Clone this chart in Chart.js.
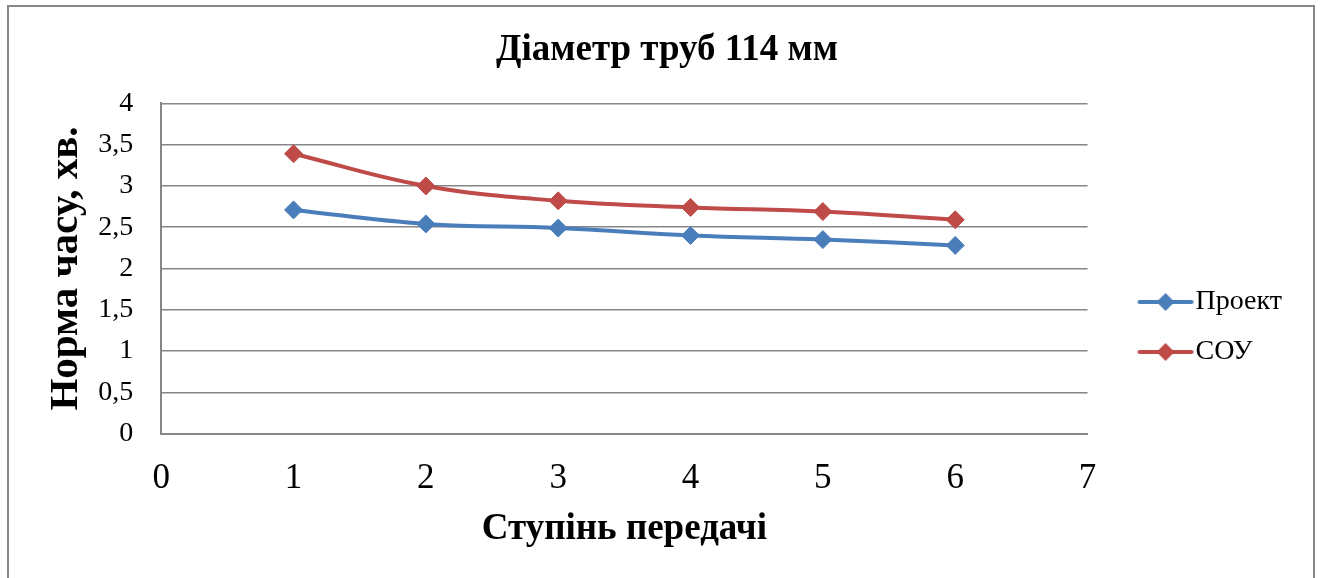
<!DOCTYPE html>
<html>
<head>
<meta charset="utf-8">
<script src="https://cdn.jsdelivr.net/npm/chart.js@4.4.1/dist/chart.umd.min.js"></script>
<style>
  html, body { margin: 0; padding: 0; background: #ffffff; }
  canvas { display: block; }
</style>
</head>
<body>
<canvas id="chart" width="1320" height="578"></canvas>
<script>
// Ступені передачі та норми часу (хв.) для труб діаметром 114 мм
const steps = [1, 2, 3, 4, 5, 6];
const projectValues = [2.71, 2.54, 2.49, 2.40, 2.35, 2.28];
const souValues = [3.39, 3.00, 2.82, 2.74, 2.69, 2.59];
const seriesNames = ['Проект', 'СОУ'];
const chartTitle = 'Діаметр труб 114 мм';
const xAxisTitle = 'Ступінь передачі';
const yAxisTitle = 'Норма часу, хв.';

const BLUE = '#4A7EBB';
const RED = '#BE4B48';
const GRID = '#868686';
const SERIF = '"Liberation Serif", "Times New Roman", serif';

// legend swatch: short line with a diamond marker in the middle
function swatch(color) {
  const c = document.createElement('canvas');
  c.width = 58; c.height = 22;
  const g = c.getContext('2d');
  g.strokeStyle = color; g.lineWidth = 4; g.lineCap = 'round';
  g.beginPath(); g.moveTo(3, 11); g.lineTo(55, 11); g.stroke();
  g.fillStyle = color;
  g.beginPath(); g.moveTo(29, 2); g.lineTo(38, 11); g.lineTo(29, 20); g.lineTo(20, 11); g.closePath(); g.fill();
  return c;
}
const swatches = [swatch(BLUE), swatch(RED)];

const toPoints = vals => steps.map((s, i) => ({ x: s, y: vals[i] }));

// outer frame of the chart block
const framePlugin = {
  id: 'frame',
  beforeDraw(chart) {
    const ctx = chart.ctx;
    ctx.save();
    ctx.fillStyle = '#ffffff';
    ctx.fillRect(0, 0, chart.width, chart.height);
    ctx.strokeStyle = GRID;
    ctx.lineWidth = 2;
    ctx.strokeRect(8, 6, 1306, 620);
    ctx.restore();
  }
};

const commaNum = v => String(v).replace('.', ',');

function lineDataset(label, values, color) {
  return {
    label,
    data: toPoints(values),
    showLine: true,
    borderColor: color,
    backgroundColor: color,
    borderWidth: 4,
    tension: 0.4,
    pointStyle: 'rectRot',
    pointRadius: 9,
    pointBorderWidth: 1,
    pointBorderColor: color,
    pointBackgroundColor: color
  };
}

new Chart(document.getElementById('chart'), {
  type: 'scatter',
  data: {
    datasets: [
      lineDataset(seriesNames[0], projectValues, BLUE),
      lineDataset(seriesNames[1], souValues, RED)
    ]
  },
  options: {
    responsive: false,
    animation: false,
    devicePixelRatio: 1,
    layout: { padding: { left: 42, right: 28, top: 28, bottom: 26 } },
    plugins: {
      tooltip: { enabled: false },
      title: {
        display: true,
        text: chartTitle,
        color: '#000',
        font: { family: SERIF, size: 37, weight: 'bold' },
        padding: { top: 0, bottom: 31 }
      },
      legend: {
        position: 'right',
        align: 'center',
        title: {
          display: true,
          text: '',
          font: { family: SERIF, size: 10 },
          padding: { top: 62, bottom: 0 }
        },
        labels: {
          color: '#000',
          font: { family: SERIF, size: 28 },
          usePointStyle: true,
          pointStyleWidth: 32,
          padding: 22,
          generateLabels(chart) {
            return chart.data.datasets.map((ds, i) => ({
              text: ds.label,
              pointStyle: swatches[i],
              fillStyle: ds.borderColor,
              strokeStyle: ds.borderColor,
              lineWidth: 0,
              hidden: false,
              datasetIndex: i,
              fontColor: '#000'
            }));
          }
        }
      }
    },
    scales: {
      x: {
        type: 'linear',
        min: 0,
        max: 7,
        ticks: {
          stepSize: 1,
          color: '#000',
          font: { family: SERIF, size: 35 },
          padding: 24
        },
        grid: { display: false, drawTicks: false },
        border: { display: true, color: GRID, width: 2 },
        title: {
          display: true,
          text: xAxisTitle,
          color: '#000',
          font: { family: SERIF, size: 37, weight: 'bold' },
          padding: { top: -16, bottom: 0 }
        }
      },
      y: {
        min: 0,
        max: 4,
        ticks: {
          stepSize: 0.5,
          color: '#000',
          font: { family: SERIF, size: 28 },
          padding: 28,
          callback: v => commaNum(v)
        },
        grid: { color: GRID, lineWidth: 1.5, drawTicks: false },
        border: { display: true, color: GRID, width: 2 },
        title: {
          display: true,
          text: yAxisTitle,
          color: '#000',
          font: { family: SERIF, size: 41, weight: 'bold' },
          padding: { top: 0, bottom: -21 }
        }
      },
      // empty strip between the plot and the legend
      gap: {
        type: 'linear',
        position: 'right',
        display: true,
        ticks: { display: false },
        grid: { display: false, drawTicks: false },
        border: { display: false },
        afterFit(scale) { scale.width = 40; }
      }
    }
  },
  plugins: [framePlugin]
});
</script>
</body>
</html>
